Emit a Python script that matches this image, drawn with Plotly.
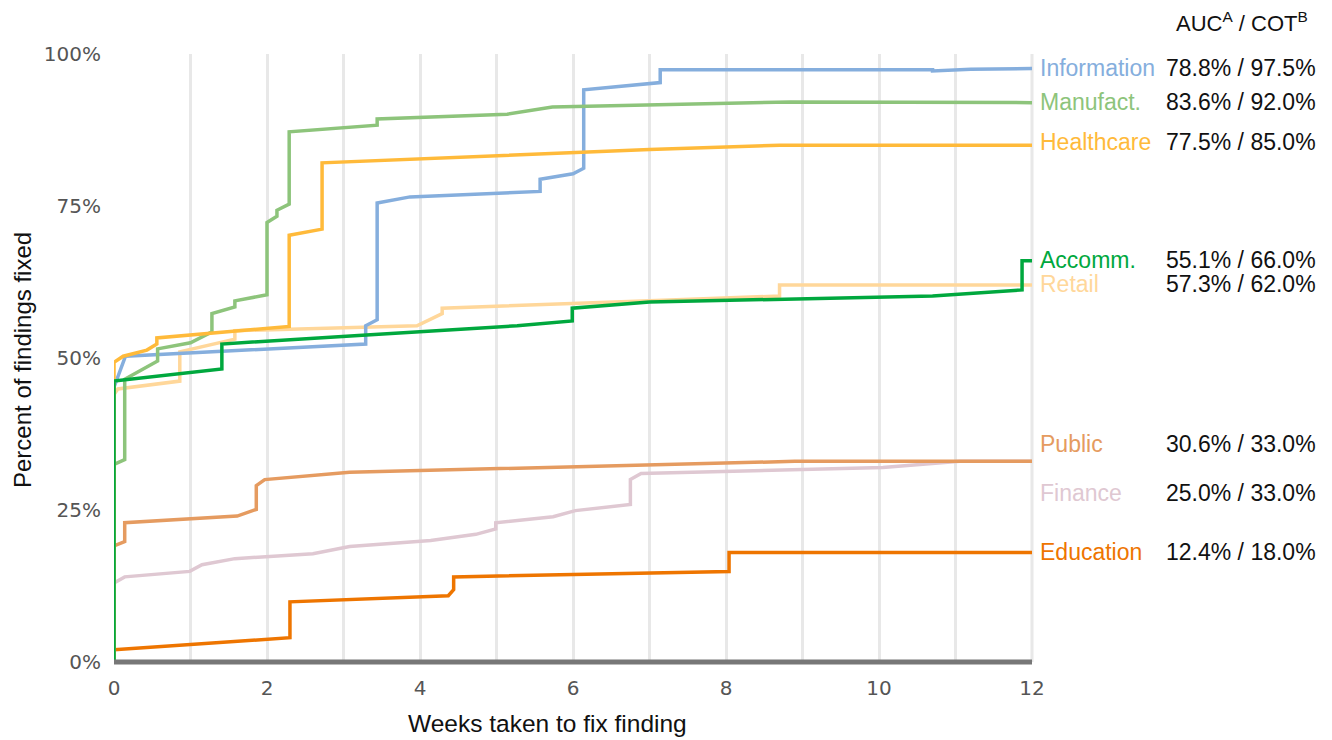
import plotly.graph_objects as go

# ---------------- data (weeks taken, percent of findings fixed) ----------------
categories = ["Information", "Manufact.", "Healthcare", "Accomm.", "Retail", "Public", "Finance", "Education"]
auc_cot = ["78.8% / 97.5%", "83.6% / 92.0%", "77.5% / 85.0%", "55.1% / 66.0%",
           "57.3% / 62.0%", "30.6% / 33.0%", "25.0% / 33.0%", "12.4% / 18.0%"]

info_weeks = [0, 0, 0.15, 3.29, 3.29, 3.44, 3.44, 3.87, 5.57, 5.57, 6.0, 6.14, 6.14, 7.14, 7.14, 10.7, 10.7, 11.2, 12]
info_pct = [0, 45.2, 50.3, 52.3, 55.3, 56.3, 75.5, 76.5, 77.4, 79.4, 80.3, 81.2, 94.1, 95.3, 97.4, 97.4, 97.2, 97.5, 97.6]

manuf_weeks = [0, 0, 0.14, 0.14, 0.57, 0.57, 1.0, 1.28, 1.28, 1.58, 1.58, 2.0, 2.0, 2.13, 2.13, 2.29, 2.29, 3.44, 3.44, 5.14, 5.73, 8.84, 12]
manuf_pct = [0, 32.5, 33.3, 46.5, 49.5, 51.5, 52.5, 54.3, 57.3, 58.4, 59.4, 60.4, 72.3, 73.3, 74.3, 75.3, 87.2, 88.3, 89.3, 90.1, 91.3, 92.1, 92.0]

health_weeks = [0, 0, 0.12, 0.43, 0.56, 0.56, 2.29, 2.29, 2.72, 2.72, 7.0, 8.7, 12]
health_pct = [0, 49.3, 50.3, 51.3, 52.3, 53.3, 55.2, 70.2, 71.2, 82.1, 84.3, 85.0, 85.0]

accomm_weeks = [0, 0, 1.41, 1.41, 3.3, 5.27, 5.99, 5.99, 7.0, 10.7, 11.87, 11.87, 12]
accomm_pct = [0, 46.2, 48.2, 52.3, 53.8, 55.3, 56.1, 58.2, 59.2, 60.2, 61.2, 66.0, 66.0]

retail_weeks = [0, 0, 0.05, 0.86, 0.86, 1.58, 1.58, 3.96, 4.29, 4.29, 7.0, 8.7, 8.7, 12]
retail_pct = [0, 44.0, 44.9, 46.2, 51.0, 53.1, 54.5, 55.3, 57.3, 58.2, 59.4, 60.2, 62.0, 62.0]

public_weeks = [0, 0, 0.14, 0.14, 1.61, 1.86, 1.86, 1.97, 3.08, 8.9, 12]
public_pct = [0, 19.1, 19.8, 22.9, 24.0, 25.1, 29.0, 30.0, 31.2, 33.0, 33.0]

finance_weeks = [0, 0, 0.14, 0.99, 1.15, 1.58, 2.6, 3.08, 4.14, 4.73, 4.99, 4.99, 5.74, 6.03, 6.75, 6.75, 6.89, 10.05, 11.06, 12]
finance_pct = [0, 13.0, 14.0, 14.9, 16.0, 17.0, 17.8, 19.0, 20.0, 21.0, 21.9, 22.9, 23.9, 24.9, 25.9, 30.0, 31.0, 32.0, 33.0, 33.0]

educ_weeks = [0, 0, 2.3, 2.3, 4.37, 4.44, 4.44, 8.04, 8.04, 12]
educ_pct = [0, 2.0, 4.0, 9.9, 10.9, 11.9, 14.0, 14.9, 18.0, 18.0]

x_ticks = [0, 2, 4, 6, 8, 10, 12]
y_ticks = [0, 25, 50, 75, 100]

colors = {
    "Information": "#85AEDD",
    "Manufact.": "#8DC47B",
    "Healthcare": "#FFBA3A",
    "Accomm.": "#00A83E",
    "Retail": "#FFD79A",
    "Public": "#E59B60",
    "Finance": "#DFC8D2",
    "Education": "#EE7500",
}

series = {
    "Information": (info_weeks, info_pct),
    "Manufact.": (manuf_weeks, manuf_pct),
    "Healthcare": (health_weeks, health_pct),
    "Accomm.": (accomm_weeks, accomm_pct),
    "Retail": (retail_weeks, retail_pct),
    "Public": (public_weeks, public_pct),
    "Finance": (finance_weeks, finance_pct),
    "Education": (educ_weeks, educ_pct),
}

draw_order = ["Finance", "Retail", "Public", "Education", "Information", "Manufact.", "Healthcare", "Accomm."]

# label vertical positions (pixel rows in the 740px page)
label_rows = [68, 102, 142, 260, 284, 444, 493, 552]

# ---------------- figure geometry ----------------
OFF = 8                       # default page body margin
PAGE_W, PAGE_H = 1332, 740
W, H = PAGE_W - OFF, PAGE_H - OFF
PLOT_X0, PLOT_X1 = 114, 1032  # page pixels of plot area
PLOT_Y0, PLOT_Y1 = 54, 662
L = PLOT_X0 - OFF
T = PLOT_Y0 - OFF
PW = PLOT_X1 - PLOT_X0
PH = PLOT_Y1 - PLOT_Y0
R = W - L - PW
B = H - T - PH


def px_x(px):
    return (px - PLOT_X0) / PW


def px_y(py):
    return (PLOT_Y1 - py) / PH


fig = go.Figure()
for name in draw_order:
    wx, py_ = series[name]
    fig.add_trace(go.Scatter(x=wx, y=py_, mode="lines", name=name,
                             line=dict(color=colors[name], width=3.5),
                             hoverinfo="skip", showlegend=False))

annotations = []
for name, val, row in zip(categories, auc_cot, label_rows):
    annotations.append(dict(x=px_x(1038), y=px_y(row), xref="paper", yref="paper",
                            text=name, showarrow=False, xanchor="left", yanchor="middle",
                            font=dict(family="Liberation Sans", size=23, color=colors[name])))
    annotations.append(dict(x=px_x(1241), y=px_y(row), xref="paper", yref="paper",
                            text=val, showarrow=False, xanchor="center", yanchor="middle",
                            font=dict(family="Liberation Sans", size=23, color="#111111")))

annotations.append(dict(x=px_x(1242), y=px_y(22), xref="paper", yref="paper",
                        text="AUC<sup>A</sup> / COT<sup>B</sup>", showarrow=False,
                        xanchor="center", yanchor="middle",
                        font=dict(family="Liberation Sans", size=22, color="#111111")))
annotations.append(dict(x=px_x(547), y=px_y(723), xref="paper", yref="paper",
                        text="Weeks taken to fix finding", showarrow=False,
                        xanchor="center", yanchor="middle",
                        font=dict(family="Liberation Sans", size=24.5, color="#111111")))
annotations.append(dict(x=px_x(22), y=px_y(360), xref="paper", yref="paper",
                        text="Percent of findings fixed", showarrow=False, textangle=-90,
                        xanchor="center", yanchor="middle",
                        font=dict(family="Liberation Sans", size=24, color="#111111")))

grid_col = "#E8E8E8"
fig.update_layout(
    width=W, height=H,
    margin=dict(l=L, r=R, t=T, b=B, pad=0),
    paper_bgcolor="white", plot_bgcolor="white",
    annotations=annotations,
    xaxis=dict(range=[0, 12], tickvals=x_ticks, ticktext=[str(v) for v in x_ticks],
               showgrid=True, gridcolor=grid_col, gridwidth=3,
               minor=dict(dtick=1, tick0=0, showgrid=True, gridcolor=grid_col, gridwidth=3),
               zeroline=False, showline=False, ticks="", ticklabelstandoff=12,
               tickfont=dict(family="DejaVu Sans", size=20, color="#555555")),
    yaxis=dict(range=[0, 100], tickvals=y_ticks, ticktext=[f"{v}%" for v in y_ticks],
               showgrid=False, zeroline=False, showline=False, ticks="", ticklabelstandoff=12,
               tickfont=dict(family="DejaVu Sans", size=20, color="#555555")),
    shapes=[
        dict(type="line", xref="paper", yref="paper", x0=1, x1=1, y0=0, y1=1,
             line=dict(color=grid_col, width=3), layer="below"),
        dict(type="line", xref="paper", yref="paper", x0=0, x1=1, y0=0, y1=0,
             line=dict(color="#777777", width=5), layer="above"),
    ],
)

fig.write_html("out.html")
